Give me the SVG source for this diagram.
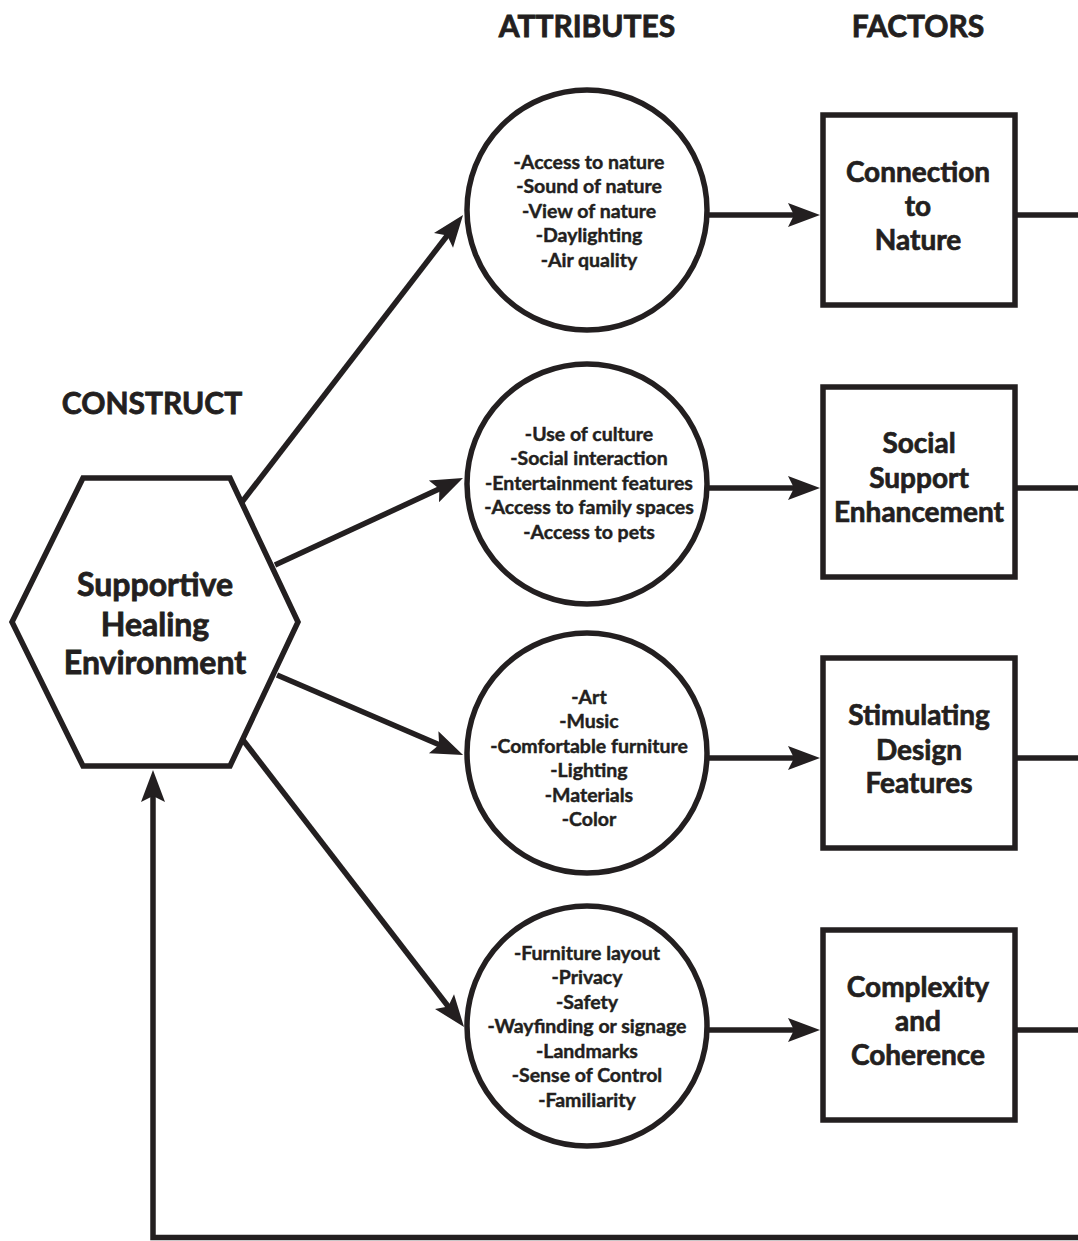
<svg xmlns="http://www.w3.org/2000/svg" width="1078" height="1241" viewBox="0 0 1078 1241">
<style>
.ln{stroke:#231f20;stroke-width:5.5;fill:none}
.shape{stroke:#231f20;stroke-width:5.5;fill:#fff}
text{font-family:Lato,"Open Sans",sans-serif;font-weight:700;fill:#231f20;text-anchor:middle;stroke:#231f20}
.hdr{font-size:30px;stroke-width:0.8}
.hex{font-size:32px;stroke-width:0.8}
.box{font-size:28px;stroke-width:0.7}
.att{font-size:19.5px;stroke-width:0.45}
</style>
<defs>
<marker id="ah" viewBox="-34 -14 36 28" markerWidth="36" markerHeight="28" refX="-24" refY="0" orient="auto" markerUnits="userSpaceOnUse">
<path d="M0,0 L-32,-12 L-26,0 L-32,12 Z" fill="#231f20"/>
</marker>
</defs>
<rect width="1078" height="1241" fill="#fff"/>

<g id="headers">
<text class="hdr" x="587" y="37">ATTRIBUTES</text>
<text class="hdr" x="918" y="37">FACTORS</text>
<text class="hdr" x="152" y="414">CONSTRUCT</text>
</g>

<g id="connectors">
<line class="ln" x1="242" y1="502" x2="448.4" y2="234"  marker-end="url(#ah)"/>
<line class="ln" x1="275" y1="565" x2="441.2" y2="488.1" marker-end="url(#ah)"/>
<line class="ln" x1="277" y1="675" x2="441" y2="745.5" marker-end="url(#ah)"/>
<line class="ln" x1="243" y1="740" x2="449.4" y2="1008" marker-end="url(#ah)"/>
<line class="ln" x1="707" y1="215" x2="796" y2="215" marker-end="url(#ah)"/>
<line class="ln" x1="707" y1="488" x2="796" y2="488" marker-end="url(#ah)"/>
<line class="ln" x1="707" y1="758" x2="796" y2="758" marker-end="url(#ah)"/>
<line class="ln" x1="707" y1="1030" x2="796" y2="1030" marker-end="url(#ah)"/>
<line class="ln" x1="1015" y1="215" x2="1078" y2="215"/>
<line class="ln" x1="1015" y1="488" x2="1078" y2="488"/>
<line class="ln" x1="1015" y1="758" x2="1078" y2="758"/>
<line class="ln" x1="1015" y1="1030" x2="1078" y2="1030"/>
<polyline class="ln" points="1078,1237.5 153,1237.5 153,794" marker-end="url(#ah)"/>
</g>

<g id="construct">
<polygon class="shape" points="83,478 230,478 298,622 230,766 83,766 12,622"/>
<text class="hex" x="155" y="596">Supportive</text>
<text class="hex" x="155" y="636">Healing</text>
<text class="hex" x="155" y="674">Environment</text>
</g>

<g id="attr1">
<circle class="shape" cx="587" cy="210" r="120"/>
<text class="att" x="589" y="168.5">-Access to nature</text>
<text class="att" x="589" y="193">-Sound of nature</text>
<text class="att" x="589" y="217.5">-View of nature</text>
<text class="att" x="589" y="242">-Daylighting</text>
<text class="att" x="589" y="266.5">-Air quality</text>
</g>

<g id="attr2">
<circle class="shape" cx="587" cy="484" r="120"/>
<text class="att" x="589" y="440.5">-Use of culture</text>
<text class="att" x="589" y="465">-Social interaction</text>
<text class="att" x="589" y="489.5">-Entertainment features</text>
<text class="att" x="589" y="514">-Access to family spaces</text>
<text class="att" x="589" y="538.5">-Access to pets</text>
</g>

<g id="attr3">
<circle class="shape" cx="587" cy="753" r="120"/>
<text class="att" x="589" y="703.5">-Art</text>
<text class="att" x="589" y="728">-Music</text>
<text class="att" x="589" y="752.5">-Comfortable furniture</text>
<text class="att" x="589" y="777">-Lighting</text>
<text class="att" x="589" y="801.5">-Materials</text>
<text class="att" x="589" y="826">-Color</text>
</g>

<g id="attr4">
<circle class="shape" cx="587" cy="1026" r="120"/>
<text class="att" x="587" y="959.5">-Furniture layout</text>
<text class="att" x="587" y="984">-Privacy</text>
<text class="att" x="587" y="1008.5">-Safety</text>
<text class="att" x="587" y="1033">-Wayfinding or signage</text>
<text class="att" x="587" y="1057.5">-Landmarks</text>
<text class="att" x="587" y="1082">-Sense of Control</text>
<text class="att" x="587" y="1106.5">-Familiarity</text>
</g>

<g id="factor1">
<rect class="shape" x="823" y="115" width="192" height="190"/>
<text class="box" x="918" y="182">Connection</text>
<text class="box" x="918" y="216">to</text>
<text class="box" x="918" y="250">Nature</text>
</g>

<g id="factor2">
<rect class="shape" x="823" y="387" width="192" height="190"/>
<text class="box" x="919" y="453">Social</text>
<text class="box" x="919" y="488">Support</text>
<text class="box" x="919" y="522">Enhancement</text>
</g>

<g id="factor3">
<rect class="shape" x="823" y="658" width="192" height="190"/>
<text class="box" x="919" y="725">Stimulating</text>
<text class="box" x="919" y="760">Design</text>
<text class="box" x="919" y="793">Features</text>
</g>

<g id="factor4">
<rect class="shape" x="823" y="930" width="192" height="190"/>
<text class="box" x="918" y="997">Complexity</text>
<text class="box" x="918" y="1031">and</text>
<text class="box" x="918" y="1065">Coherence</text>
</g>
</svg>
